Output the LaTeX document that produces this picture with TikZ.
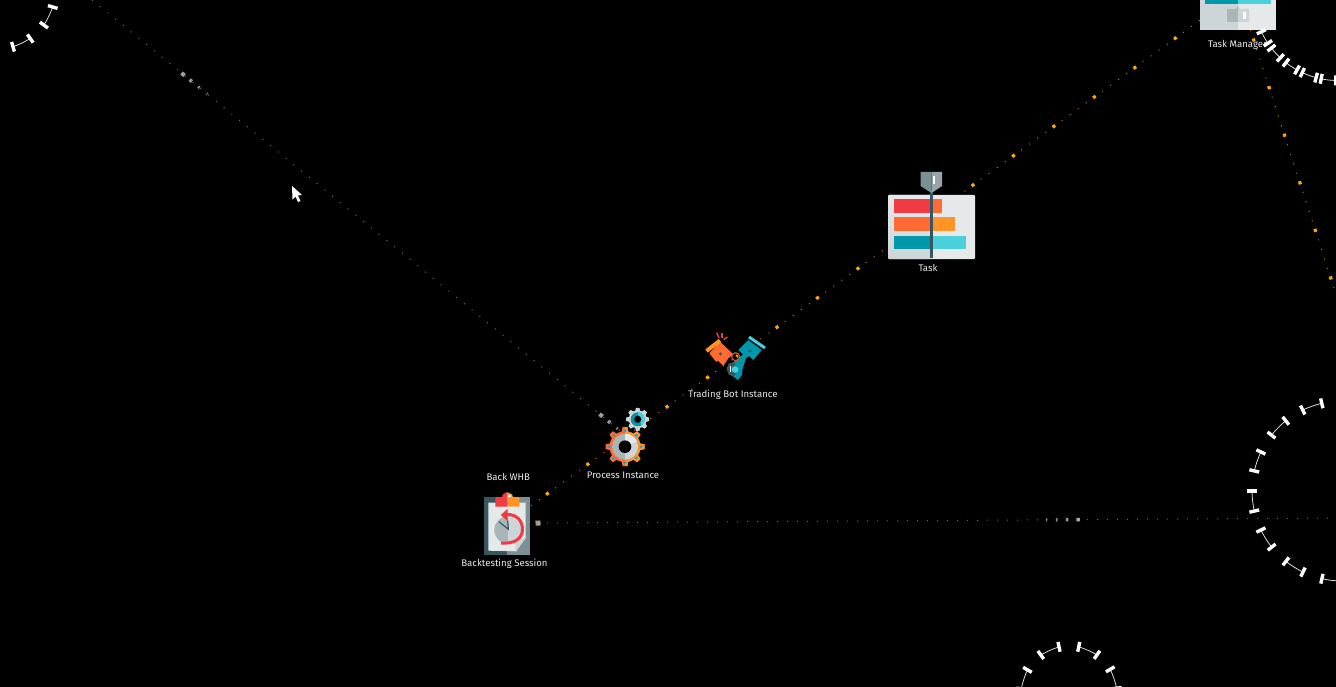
\documentclass[tikz,border=0pt]{standalone}
\usepackage{fontspec}
\setmainfont{Fira Sans}
\usetikzlibrary{calc}

\definecolor{iconred}{HTML}{F23A45}
\definecolor{iconflame}{HTML}{FF6B33}
\definecolor{iconamber}{HTML}{FF9527}
\definecolor{icontealdark}{HTML}{0097AB}
\definecolor{icontealpale}{HTML}{4AD0DA}
\definecolor{iconslate}{HTML}{37565E}
\definecolor{iconsteel}{HTML}{7B9094}
\definecolor{iconsilver}{HTML}{A8B6B8}
\definecolor{iconmist}{HTML}{CDD5D8}
\definecolor{iconpaper}{HTML}{E6E9EA}
\definecolor{linkbright}{HTML}{FFA510}
\definecolor{linkdim}{HTML}{B87A10}

\tikzset{
    itemlabel/.style={text=white!92!black, inner sep=0pt, font=\fontsize{9.6}{11}\selectfont},
    linkgrey/.style={line width=1pt, white!42!black, dash pattern=on 1pt off 9pt},
    linkamber/.style={line width=1pt, linkdim, dash pattern=on 1pt off 9pt, dash phase=0.5pt},
    linkamberdot/.style={line width=3.2pt, linkbright, dash pattern=on 3.2pt off 46.8pt, dash phase=1.6pt},
    handlebar/.style={line width=3.4pt, white},
    handlewire/.style={line width=0.8pt, white!85!black},
}

% two bars on a ring and the wire between them
\newcommand{\handlepair}[3]{%
    \draw[handlewire] ({-#1}:#3) to[bend right=5] ({-#2}:#3);
    \draw[handlebar] ({-#1}:{#3-5}) -- ({-#1}:{#3+5});
    \draw[handlebar] ({-#2}:{#3-5}) -- ({-#2}:{#3+5});
}
\newcommand{\pulsemark}[6]{%
    \draw[line width=#5pt, #6] ($(#1)!#3pt!(#2)$) -- ($(#1)!#3pt+#4pt!(#2)$);
}
\newcommand{\gearbody}[4]{%
    \foreach \ang in {0,45,...,315} {
        \fill[#4, rotate=\ang] (#1-1,{-#3-1}) -- (#2,-#3) -- (#2,#3) -- (#1-1,{#3+1}) -- cycle;
    }
    \fill[#4] (0,0) circle (#1);
}

\begin{document}
\begin{tikzpicture}[x=1pt, y=-1pt]
    \path[use as bounding box, fill=black] (0,0) rectangle (1336,687);

    \coordinate (session) at (507,523.2);
    \coordinate (process) at (626.5,436);
    \coordinate (bot) at (736.5,356.5);
    \coordinate (task) at (932.5,214.5);
    \coordinate (manager) at (1238.3,-7.5);
    \coordinate (farlink) at (92,0);
    \coordinate (managerfar) at (1345,322);
    \coordinate (ringlink) at (1342,518);
    \coordinate (ringright) at (1342,491);
    \coordinate (ringtop) at (1338,-4);
    \coordinate (ringbottom) at (1069,693.8);
    \coordinate (ringleft) at (-3,-9);

    % links
    \draw[linkgrey] (farlink) -- (process);
    \draw[linkgrey] (session) -- (ringlink);
    \foreach \from/\to in {session/process,process/bot,bot/task,task/manager,manager/managerfar} {
        \draw[linkamber] (\from) -- (\to);
        \draw[linkamberdot] (\from) -- (\to);
    }

    \pulsemark{farlink}{process}{115.5}{4}{4}{white!62!black}
    \pulsemark{farlink}{process}{126}{3}{3.5}{white!58!black}
    \pulsemark{farlink}{process}{137}{2}{3}{white!52!black}
    \pulsemark{farlink}{process}{148}{1}{3}{white!46!black}
    \pulsemark{farlink}{process}{655}{4}{4}{white!62!black}
    \pulsemark{farlink}{process}{666}{3}{3.5}{white!58!black}
    \pulsemark{farlink}{process}{677}{1.5}{3}{white!52!black}
    \pulsemark{session}{ringlink}{28.5}{5}{5}{white!62!black}
    \pulsemark{session}{ringlink}{569.5}{3.5}{3.5}{white!66!black}
    \pulsemark{session}{ringlink}{559}{2.5}{3.5}{white!60!black}
    \pulsemark{session}{ringlink}{549}{1.5}{3.5}{white!54!black}
    \pulsemark{session}{ringlink}{539}{1}{3.5}{white!46!black}

    % backtesting session
    \begin{scope}[shift={(session)}]
        \fill[iconslate] (-23,-26) rectangle (0,32);
        \fill[iconsteel] (0,-26) rectangle (23,32);
        \fill[iconpaper] (-18.7,-20.5) -- (18.7,-20.5) -- (18.7,15) -- (8.7,28) -- (-18.7,27.5) -- cycle;
        \fill[iconmist] (8.7,17.8) -- (19,14) -- (8.7,29) -- cycle;
        \fill[iconred] (-11.7,-16.5) -- (-11.7,-26) -- (-5,-26) -- (-4,-29) -- (0,-31) -- (0,-16.5) -- cycle;
        \fill[iconamber] (12.3,-16.5) -- (12.3,-26) -- (6,-26) -- (5,-29) -- (0,-31) -- (0,-16.5) -- cycle;
        \fill[white] (0.5,-28) rectangle (3.5,-26.5);
        \fill[iconsilver] (1.3,-7.2) arc (-90:-270:14) -- cycle;
        \fill[iconmist] (1.3,-7.2) arc (-90:90:14) -- cycle;
        \draw[line width=1.2pt, iconslate] (-8,-1.5) -- (1.3,6) -- (0.7,-2.5);
        \draw[line width=3pt, iconred] (0,-8.7) .. controls (10,-9) and (15.5,-2) .. (15.5,6) .. controls (15.5,15) and (8,21) .. (-6,19.8);
        \fill[iconred] (-6.3,-8.2) -- (0.5,-14.2) -- (0.5,-2.2) -- cycle;
    \end{scope}

    % process instance
    \begin{scope}[shift={(625,446.7)}]
        \gearbody{15.5}{19.5}{2.4}{iconflame}
        \begin{scope}
            \clip (0,-25) rectangle (25,25);
            \gearbody{15.5}{19.5}{2.4}{iconamber}
        \end{scope}
        \foreach \ang in {0,45,...,315} {
            \fill[icontealdark!70!iconsilver] (\ang:16) circle (1.7);
        }
        \fill[iconsilver] (0,0) circle (13);
        \fill[iconmist] (0,-13) arc (-90:90:13) -- cycle;
        \fill[iconpaper] (0,-13) arc (-90:-25:13) -- (0,0) -- cycle;
        \fill[black] (0,0) circle (6.3);
    \end{scope}
    \begin{scope}[shift={(637.7,419.3)}]
        \gearbody{9}{11.5}{1.7}{iconmist}
        \fill[icontealdark] (0,0) circle (7);
        \fill[icontealpale] (0,-7) arc (-90:60:7) -- cycle;
        \fill[black] (0,0) circle (3.6);
    \end{scope}

    % trading bot instance
    \draw[line width=1.4pt, iconred] (716.5,332.5) -- (719,338);
    \draw[line width=1.4pt, iconred] (722,332.5) -- (722,338);
    \draw[line width=1.4pt, iconred] (727.5,337) -- (723.5,339.5);
    \fill[iconflame] (709.3,353.3) -- (720,341.7) -- (733.3,354.3) -- (728.3,358.3) -- (723.3,366) -- (718.3,361) -- (716,361.7) -- cycle;
    \draw[line width=4pt, iconamber] (706.5,351) -- (720,340.5);
    \fill[iconslate] (720.5,354) circle (1.6);
    \fill[icontealdark] (738.3,350) -- (748.3,340) -- (761.7,350) -- (753.3,360) -- (749,356) -- (746,358) -- (742,371) -- (742,375) -- (738,380) -- (731,375) -- (729,365) -- (735,361) -- (743,354.5) -- cycle;
    \draw[line width=3pt, icontealpale] (749,337) -- (765,348);
    \fill[iconslate] (729,363) -- (735,362.5) -- (735,376) -- (729,375) -- (726.5,369) -- cycle;
    \fill[icontealpale] (735,369.5) circle (3.3);
    \fill[white] (729.5,366) rectangle (730.8,372);
    \fill[iconslate] (750,351) circle (1.6);
    \draw[line width=1.2pt, iconflame!80!black] (735.7,356.7) circle (4);

    % task
    \fill[iconpaper, rounded corners=1pt] (888,195) rectangle (975,259);
    \shade[top color=iconpaper, bottom color=iconmist, rounded corners=1pt] (888,195) rectangle (931.5,259);
    \fill[iconred] (894.3,199) rectangle (931.5,213);
    \fill[iconflame] (931.5,199) rectangle (942,213);
    \fill[iconflame] (894.3,217.3) rectangle (931.5,231);
    \fill[iconamber] (931.5,217.3) rectangle (954.5,231);
    \fill[icontealdark] (894.3,235.7) rectangle (931.5,249);
    \fill[icontealpale] (931.5,235.7) rectangle (965.5,249);
    \fill[iconslate] (930,190) rectangle (933.3,258);
    \fill[iconsteel] (920.5,172) -- (931.5,172) -- (931.5,193) -- (920.5,186) -- cycle;
    \fill[iconsteel!80!white] (931.5,172) -- (942,172) -- (942,186) -- (931.5,193) -- cycle;
    \fill[white] (933,176) rectangle (935.2,184);

    % task manager
    \fill[iconmist] (1200,-5) rectangle (1238,30);
    \fill[iconpaper] (1238,-5) rectangle (1276,30);
    \fill[icontealdark] (1205,-5) rectangle (1238,4);
    \fill[icontealpale] (1238,-5) rectangle (1271,4);
    \fill[iconsilver] (1227,9) -- (1236,9) -- (1238,5) -- (1238,22) -- (1227,22) -- cycle;
    \fill[iconmist] (1238,5) -- (1240,9) -- (1249,9) -- (1249,22) -- (1238,22) -- cycle;
    \fill[white] (1243.3,12) rectangle (1245.8,19);

    \node[itemlabel] (backwhb) at (508.3,476.9) {Back WHB};
    \node[itemlabel] (sessionlabel) at (504.5,563.4) {Backtesting Session};
    \node[itemlabel] (processlabel) at (623,475.3) {Process Instance};
    \node[itemlabel] (botlabel) at (733,395.2) {Trading Bot Instance};
    \node[itemlabel] (tasklabel) at (928,267.5) {Task};
    \node[itemlabel] (managerlabel) at (1237.5,45) {Task Manager};

    % rings of handles
    \begin{scope}[shift={(ringright)}]
        \foreach \first/\second in {103/115.9,128.7/141.6,154.3/167.1,180/192.9,205.7/218.6,231.4/244.3,257.1/270} {
            \handlepair{\first}{\second}{90}
        }
    \end{scope}
    \begin{scope}[shift={(ringtop)}]
        \foreach \first/\second in {205/214,218/227,232/241,245/255,258.5/268.5} {
            \handlepair{\first}{\second}{84.5}
        }
    \end{scope}
    \begin{scope}[shift={(ringbottom)}]
        \foreach \first/\second in {30.7/6.7,78.3/54.3} {
            \handlepair{\second}{\first}{48}
        }
        \foreach \first/\second in {102/126,150/174} {
            \handlepair{\first}{\second}{48}
        }
    \end{scope}
    \begin{scope}[shift={(ringleft)}]
        \foreach \first/\second in {-74/-55,-36/-16} {
            \handlepair{\first}{\second}{58}
        }
    \end{scope}

    % pointer
    \fill[white] (292,186) -- (292.5,199.5) -- (295.5,196.5) -- (298,202) -- (300.5,201) -- (298,195.5) -- (302,195) -- cycle;
\end{tikzpicture}
\end{document}
